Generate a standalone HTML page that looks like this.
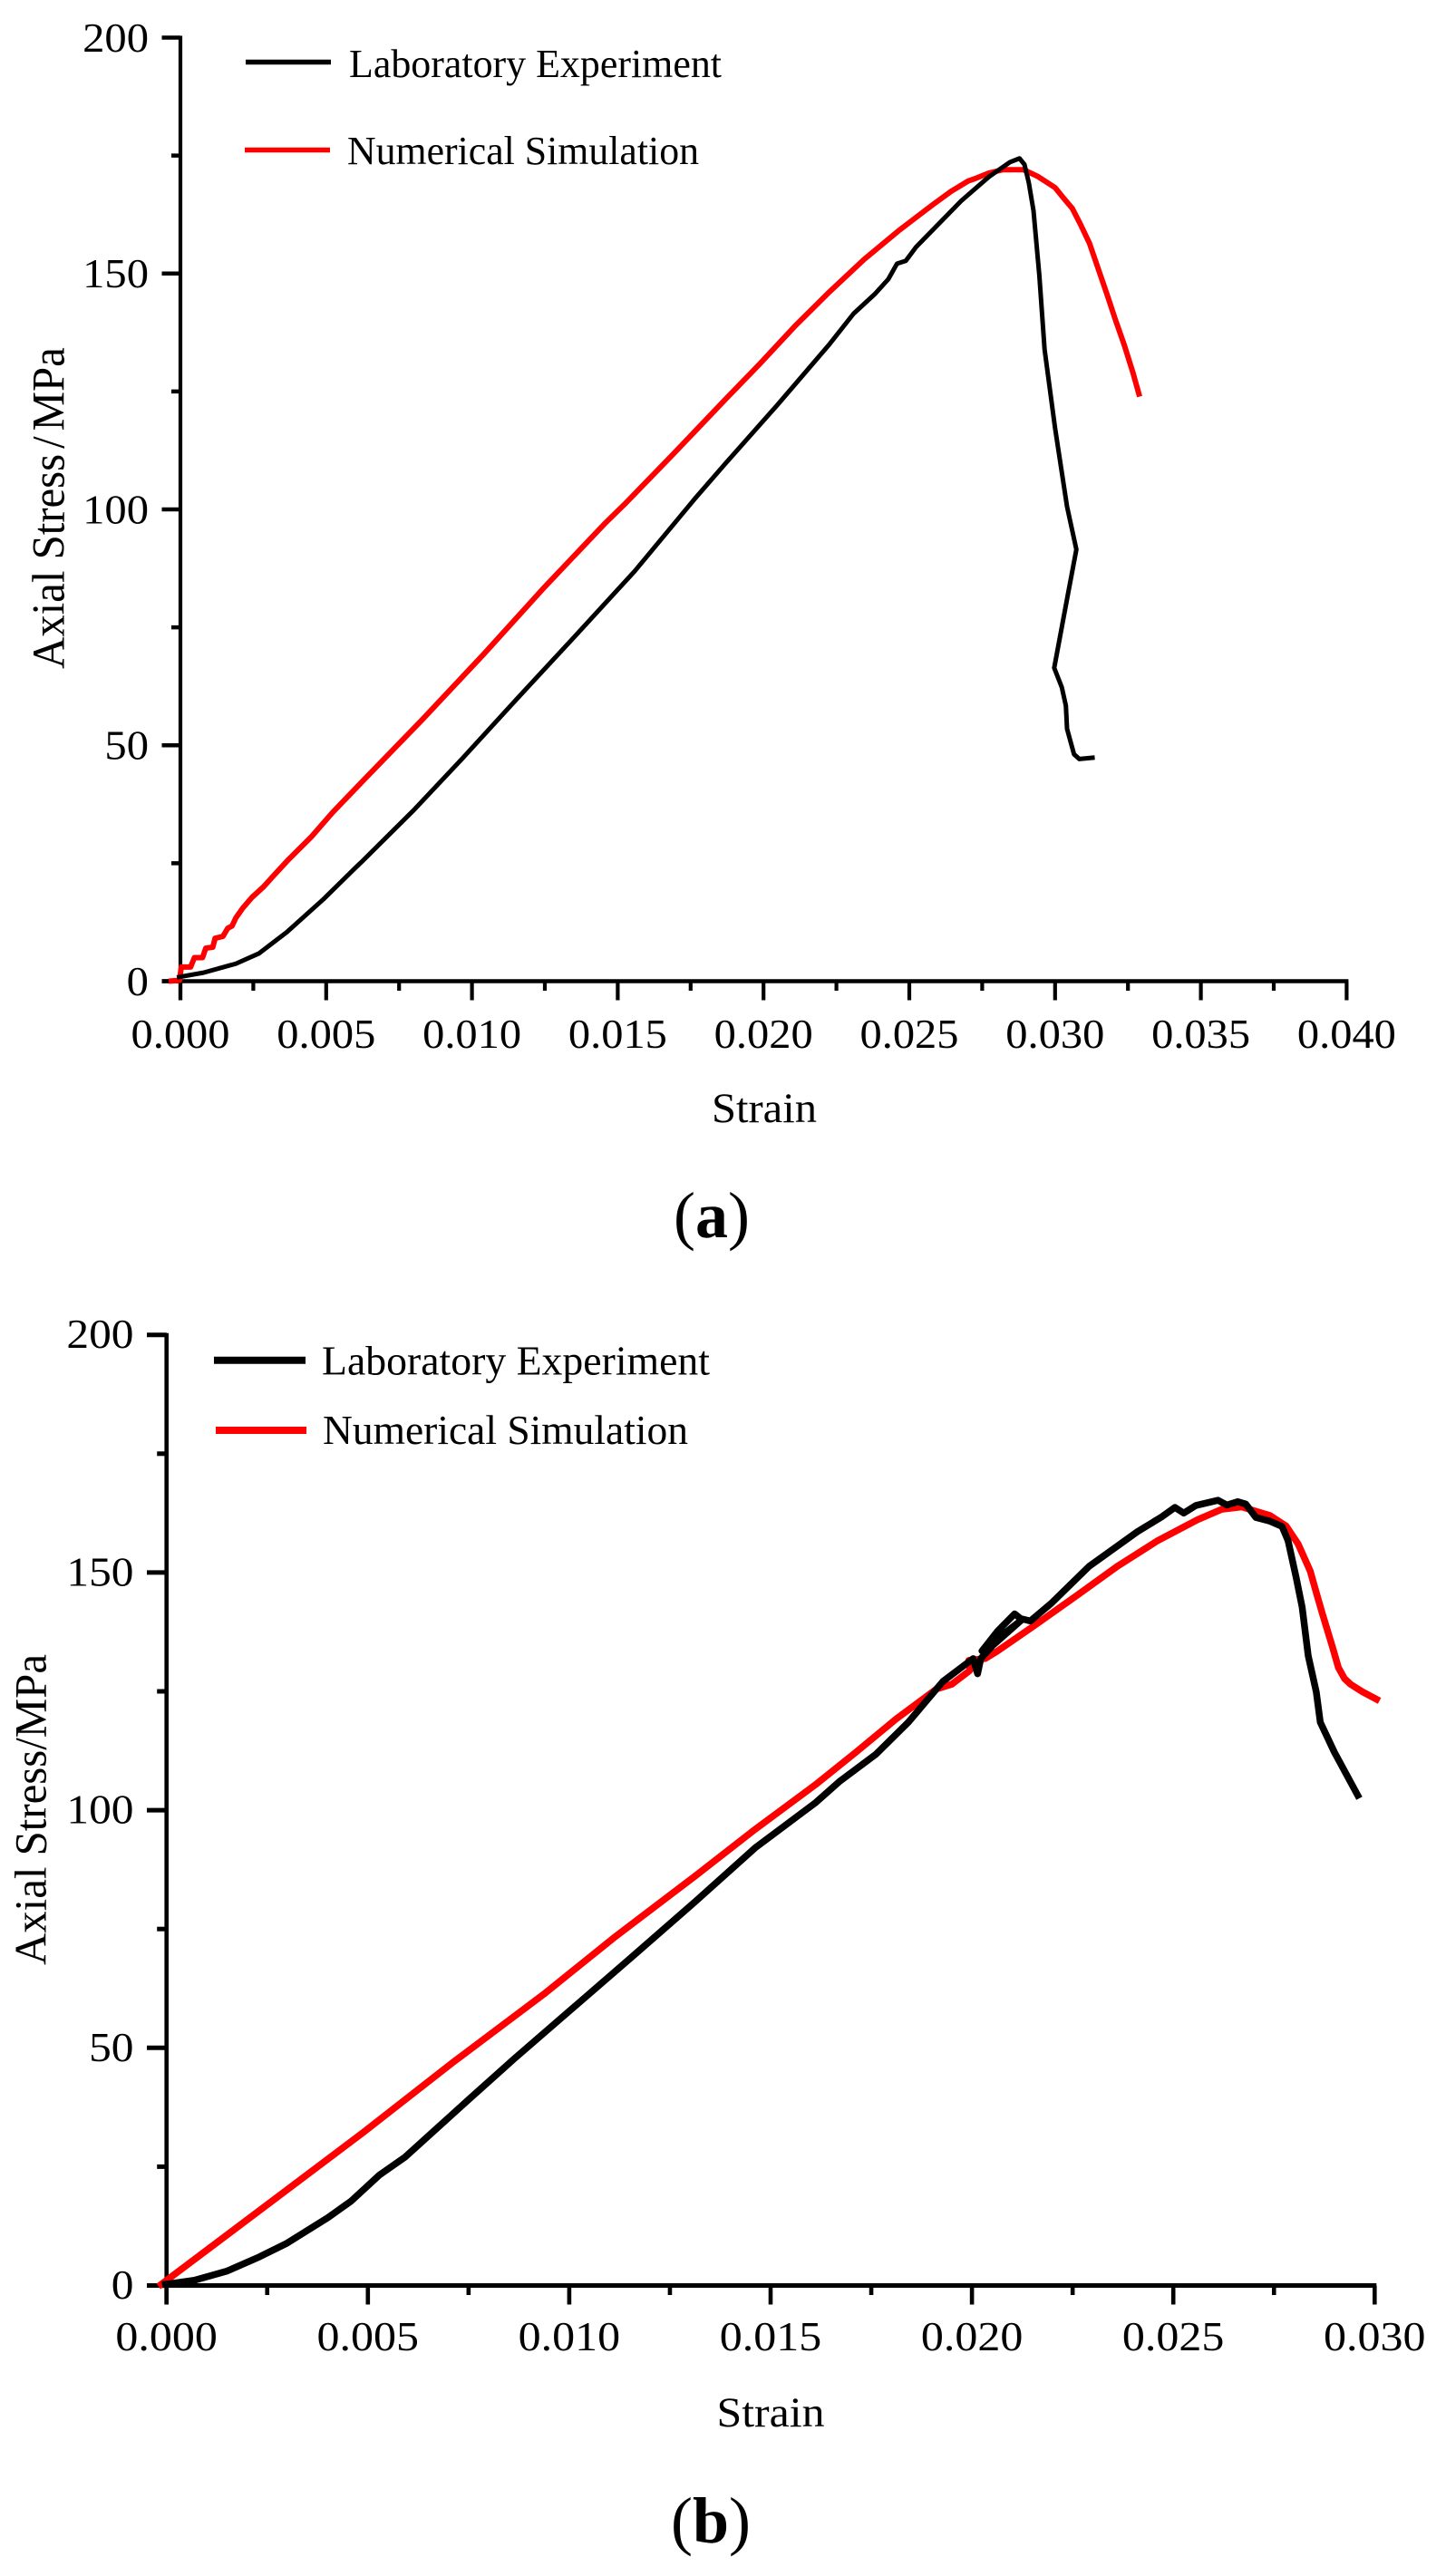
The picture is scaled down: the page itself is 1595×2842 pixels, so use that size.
<!DOCTYPE html>
<html lang="en">
<head>
<meta charset="utf-8">
<title>Axial stress versus strain</title>
<style>
html,body{margin:0;padding:0;background:#fff;}
svg{display:block;}
text{font-family:"Liberation Serif","Times New Roman",serif;fill:#000;}
</style>
</head>
<body>
<svg id="figure" xmlns="http://www.w3.org/2000/svg" width="1595" height="2842" viewBox="0 0 1595 2842">
  <rect x="0" y="0" width="1595" height="2842" fill="#fff"/>

  <g id="chart-a"></g>
  <g>
    <line x1="271" x2="365" y1="68.5" y2="68.5" stroke="#000" stroke-width="5.5"/>
    <text x="385" y="85" font-size="44" textLength="411" lengthAdjust="spacingAndGlyphs">Laboratory Experiment</text>
    <line x1="270" x2="364" y1="165.5" y2="165.5" stroke="#f00" stroke-width="5.5"/>
    <text x="383" y="181" font-size="44" textLength="388" lengthAdjust="spacingAndGlyphs">Numerical Simulation</text>
  </g>
  <text x="843" y="1238" font-size="47" text-anchor="middle" textLength="116" lengthAdjust="spacingAndGlyphs">Strain</text>
  <text transform="translate(70.7,738) rotate(-90) scale(1,1.04)" x="0" y="0" font-size="48.8">Axial Stress<tspan dx="6">/</tspan><tspan dx="6">MPa</tspan></text>
  <text x="785" y="1365" font-size="72" text-anchor="middle">(<tspan font-weight="bold">a</tspan>)</text>

  <g id="chart-b"></g>
  <g>
    <line x1="236" x2="337" y1="1500.7" y2="1500.7" stroke="#000" stroke-width="8"/>
    <text x="355" y="1516.7" font-size="46" textLength="428" lengthAdjust="spacingAndGlyphs">Laboratory Experiment</text>
    <line x1="238" x2="338" y1="1578" y2="1578" stroke="#f00" stroke-width="8"/>
    <text x="356" y="1593" font-size="46" textLength="403" lengthAdjust="spacingAndGlyphs">Numerical Simulation</text>
  </g>
  <text x="850" y="2677" font-size="47" text-anchor="middle" textLength="119" lengthAdjust="spacingAndGlyphs">Strain</text>
  <text transform="translate(50.7,2168) rotate(-90)" x="0" y="0" font-size="49.5" textLength="343" lengthAdjust="spacingAndGlyphs">Axial Stress/MPa</text>
  <text x="784" y="2805" font-size="72" text-anchor="middle">(<tspan font-weight="bold">b</tspan>)</text>
</svg>

<script>
// ---- Chart (a) data ----
const aLabStrain = [-0.00012,0.00079,0.0019,0.0027,0.00365,0.00491,0.00603,0.00625,0.00801,0.00967,0.01143,0.0135,0.01558,0.01765,0.01869,0.02047,0.02226,0.02309,0.02381,0.02428,0.02458,0.02488,0.02523,0.02583,0.02678,0.02773,0.02845,0.02878,0.02895,0.0291,0.02926,0.02946,0.02964,0.03,0.03041,0.03073,0.03041,0.02997,0.03023,0.03037,0.03041,0.03065,0.03083,0.03136];
const aLabStress = [0.8,1.8,3.7,5.9,10.4,17.4,24.2,25.5,36.3,47.2,59.1,72.9,86.9,102.3,109.7,122.1,135,141.5,145.6,148.8,152.1,152.7,155.6,159.4,165.4,170.5,173.6,174.4,173.1,169.2,163.3,149.6,133.9,117.2,100.6,91.5,81,66.4,62.3,58.4,53.5,48.1,47.1,47.4];
const aSimStrain = [-0.0004,-0.00003,0.00003,0.00035,0.00048,0.00076,0.00087,0.00111,0.00119,0.00146,0.00162,0.00177,0.0019,0.00214,0.00246,0.00285,0.00317,0.00371,0.00449,0.00521,0.00625,0.00832,0.0104,0.01247,0.01454,0.01522,0.01693,0.01869,0.01988,0.02107,0.02226,0.02345,0.02464,0.02583,0.02643,0.02702,0.02725,0.02773,0.02821,0.02892,0.0294,0.03,0.03029,0.03059,0.03088,0.03118,0.03148,0.03178,0.03207,0.03237,0.03267,0.0329];
const aSimStress = [0,0.2,3,3,5,5,7,7.2,9.1,9.5,11.2,11.7,13.4,15.5,17.8,20,22.2,25.8,30.6,35.7,42.4,55.6,69.3,83.4,96.9,101,111.9,123.3,130.9,138.8,146.1,153,159.1,164.7,167.4,169.6,170.1,171.3,172,172,170.6,168.2,166,163.8,160.3,156.4,151,145.6,140.2,134.9,129,123.9];
const aMajorX = ["0.000","0.005","0.010","0.015","0.020","0.025","0.030","0.035","0.040"];
const aMinorX = [0.0025,0.0075,0.0125,0.0175,0.0225,0.0275,0.0325,0.0375];
const aMajorY = ["0","50","100","150","200"];
const aMinorY = [25,75,125,175];

// ---- Chart (b) data ----
const bLabStrain = [-0.00011,0.00069,0.00149,0.0023,0.00299,0.00401,0.00459,0.00528,0.00592,0.0075,0.00862,0.00997,0.01162,0.01312,0.01462,0.01612,0.01672,0.01762,0.01842,0.01928,0.02003,0.02014,0.02022,0.02052,0.02123,0.02025,0.02063,0.02106,0.02121,0.02145,0.02198,0.02291,0.02411,0.02471,0.02504,0.02526,0.02556,0.02611,0.02633,0.0266,0.0268,0.02705,0.0274,0.0277,0.02785,0.02805,0.0282,0.02835,0.02855,0.02865,0.029,0.02962];
const bLabStress = [0.15,1.1,3,6,8.9,14.3,17.8,23.2,27,39.1,47.6,57.5,69.6,80.7,92.1,101.6,106.1,111.8,118.5,127.1,131.9,128.7,131.9,134.7,140,133.5,137.6,141.3,140.3,139.8,143.6,151.3,158.6,161.7,163.7,162.5,164.1,165.2,164.2,164.9,164.4,161.6,160.8,159.7,156.7,149,142.7,132.5,124.9,118.5,112.2,102.5];
const bSimStrain = [-0.0002,0.00487,0.00712,0.00937,0.0111,0.01312,0.01462,0.01612,0.01712,0.01812,0.01912,0.0195,0.01995,0.01992,0.02033,0.02062,0.02161,0.02261,0.02361,0.02461,0.0256,0.0262,0.0267,0.0274,0.0278,0.0281,0.0284,0.02855,0.0287,0.02895,0.0291,0.02925,0.0294,0.0297,0.03012];
const bSimStress = [-0.2,32.1,47,61.3,73.1,86.1,96,105.4,112.2,119.2,125.5,126.5,129.4,131.5,131.9,133.4,139.2,145.2,151.3,156.7,161.1,163.3,163.8,162,159.8,156,150.3,145.8,141.4,134.4,130,127.7,126.5,124.9,123];
const bMajorX = ["0.000","0.005","0.010","0.015","0.020","0.025","0.030"];
const bMinorX = [0.0025,0.0075,0.0125,0.0175,0.0225,0.0275];
const bMajorY = ["0","50","100","150","200"];
const bMinorY = [25,75,125,175];

const NS = "http://www.w3.org/2000/svg";

function makeScale(d0, p0, d1, p1) {
  return function (v) { return p0 + (v - d0) * (p1 - p0) / (d1 - d0); };
}

function addLine(parent, x1, y1, x2, y2, width) {
  const el = document.createElementNS(NS, "line");
  el.setAttribute("x1", x1);
  el.setAttribute("y1", y1);
  el.setAttribute("x2", x2);
  el.setAttribute("y2", y2);
  el.setAttribute("stroke", "#000");
  el.setAttribute("stroke-width", width);
  parent.appendChild(el);
  return el;
}

function addLabel(parent, x, y, anchor, size, len, content) {
  const el = document.createElementNS(NS, "text");
  el.setAttribute("x", x);
  el.setAttribute("y", y);
  el.setAttribute("text-anchor", anchor);
  el.setAttribute("font-size", size);
  el.setAttribute("textLength", len);
  el.setAttribute("lengthAdjust", "spacingAndGlyphs");
  el.textContent = content;
  parent.appendChild(el);
  return el;
}

function addSeries(parent, xs, ys, xScale, yScale, color, width) {
  const el = document.createElementNS(NS, "polyline");
  const pts = xs.map(function (x, i) {
    return xScale(x).toFixed(2) + "," + yScale(ys[i]).toFixed(2);
  });
  el.setAttribute("points", pts.join(" "));
  el.setAttribute("fill", "none");
  el.setAttribute("stroke", color);
  el.setAttribute("stroke-width", width);
  el.setAttribute("stroke-linejoin", "round");
  el.setAttribute("stroke-linecap", "butt");
  parent.appendChild(el);
  return el;
}

function drawChart(cfg) {
  const root = document.getElementById(cfg.id);
  const xMaxVal = parseFloat(cfg.majorX[cfg.majorX.length - 1]);
  const yMaxVal = parseFloat(cfg.majorY[cfg.majorY.length - 1]);
  const xScale = makeScale(0, cfg.x0, xMaxVal, cfg.x1);
  const yScale = makeScale(0, cfg.y0, yMaxVal, cfg.y1);

  const yAxis = addLine(root, cfg.x0, cfg.y1 - 2, cfg.x0, cfg.y0 + cfg.xMajorLen, cfg.axisW);
  
  

  const xAxis = addLine(root, cfg.x0 - cfg.yMajorLen, cfg.y0, cfg.x1 + 2, cfg.y0, cfg.tickW);
  
  

  cfg.majorY.forEach(function (lab) {
    const y = yScale(parseFloat(lab));
    const t = addLine(root, cfg.x0 - cfg.yMajorLen, y, cfg.x0, y, cfg.tickW);
    
    
    const l = addLabel(root, cfg.yLabelX, y + cfg.yLabelDy, "end", cfg.fontSize, cfg.yDigitW * lab.length, lab);
    
    
  });
  cfg.minorY.forEach(function (v) {
    const y = yScale(v);
    const t = addLine(root, cfg.x0 - cfg.yMinorLen, y, cfg.x0, y, cfg.tickW);
    
    
  });
  cfg.majorX.forEach(function (lab) {
    const x = xScale(parseFloat(lab));
    const t = addLine(root, x, cfg.y0, x, cfg.y0 + cfg.xMajorLen, cfg.axisW);
    
    
    const l = addLabel(root, x, cfg.xLabelY, "middle", cfg.fontSize, cfg.xLabelW, lab);
    
    
  });
  cfg.minorX.forEach(function (v) {
    const x = xScale(v);
    const t = addLine(root, x, cfg.y0, x, cfg.y0 + cfg.xMinorLen, cfg.axisW);
    
    
  });

  const sim = addSeries(root, cfg.simX, cfg.simY, xScale, yScale, "#f00", cfg.simW);
  
  
  const lab = addSeries(root, cfg.labX, cfg.labY, xScale, yScale, "#000", cfg.labW);
  
  
}

drawChart({
  id: "chart-a",
  x0: 199, x1: 1485.4, y0: 1082.5, y1: 41.5,
  axisW: 4.2, tickW: 4.5,
  xMajorLen: 21, xMinorLen: 10.5, yMajorLen: 20.5, yMinorLen: 10,
  fontSize: 46, yLabelX: 164, yLabelDy: 15.3, yDigitW: 24.3,
  xLabelY: 1156, xLabelW: 109,
  majorX: aMajorX, minorX: aMinorX, majorY: aMajorY, minorY: aMinorY,
  labX: aLabStrain, labY: aLabStress, simX: aSimStrain, simY: aSimStress,
  labW: 5, simW: 6
});

drawChart({
  id: "chart-b",
  x0: 183.7, x1: 1516.3, y0: 2521.5, y1: 1472.7,
  axisW: 4.6, tickW: 5,
  xMajorLen: 21, xMinorLen: 10.5, yMajorLen: 21.7, yMinorLen: 10.5,
  fontSize: 46, yLabelX: 147.5, yLabelDy: 14.5, yDigitW: 24.7,
  xLabelY: 2593, xLabelW: 112.5,
  majorX: bMajorX, minorX: bMinorX, majorY: bMajorY, minorY: bMinorY,
  labX: bLabStrain, labY: bLabStress, simX: bSimStrain, simY: bSimStress,
  labW: 7.5, simW: 7.5
});
</script>
</body>
</html>
